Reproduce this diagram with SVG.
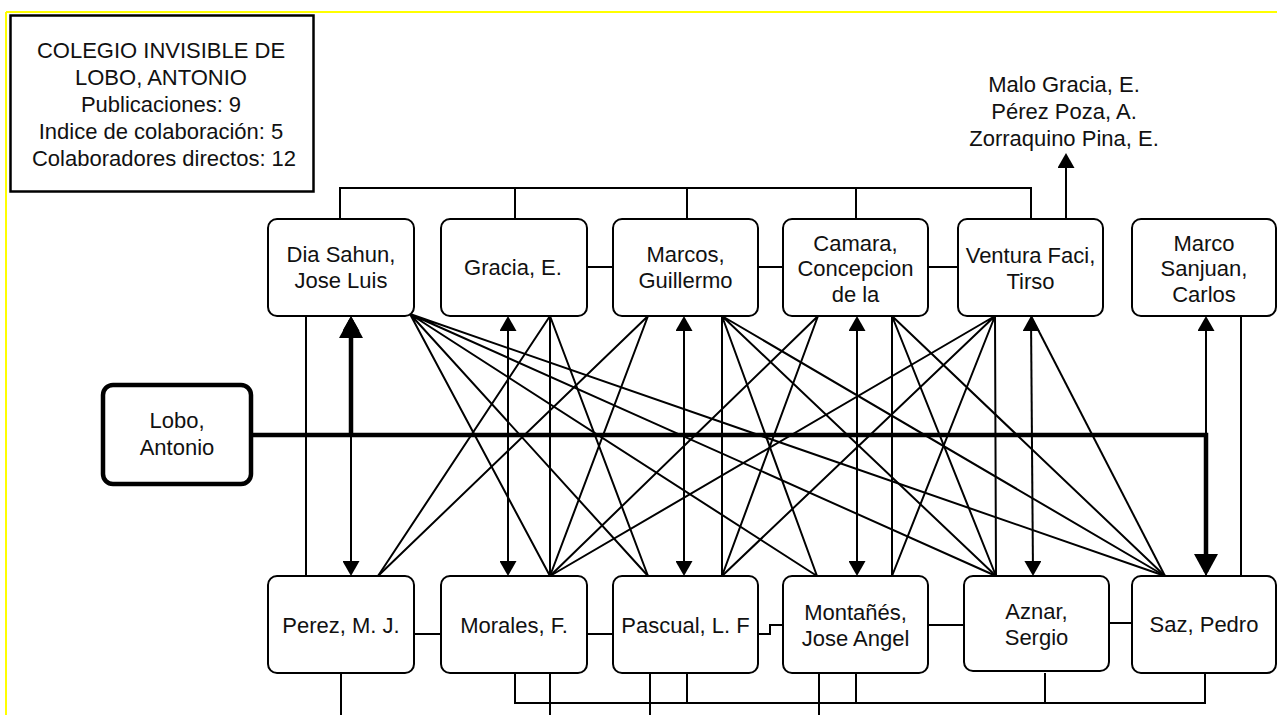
<svg xmlns="http://www.w3.org/2000/svg" width="1277" height="715" viewBox="0 0 1277 715">
<style>
  .node rect{fill:#fff;stroke:#000;stroke-width:2}
  #lobo rect{stroke-width:4.5}
  #legend rect{fill:#fff;stroke:#000;stroke-width:2.5}
  text{font-family:"Liberation Sans",Arial,sans-serif;font-size:22px;fill:#111;text-anchor:middle}
  .ln{stroke:#000;stroke-width:2;fill:none}
  .thick{stroke:#000;stroke-width:4.5;fill:none}
  .arr2{marker-start:url(#ah);marker-end:url(#ah)}
  .arrE{marker-end:url(#ah)}
  .arrS{marker-start:url(#ah)}
  .arrT{marker-end:url(#ahT)}
</style>
<defs>
  <marker id="ah" markerUnits="userSpaceOnUse" viewBox="0 0 15 17" markerWidth="15" markerHeight="17" refX="13" refY="8.5" orient="auto-start-reverse">
    <path d="M0,0 L15,8.5 L0,17 z" fill="#000"/>
  </marker>
  <marker id="ahT" markerUnits="userSpaceOnUse" viewBox="0 0 22 24" markerWidth="22" markerHeight="24" refX="18" refY="12" orient="auto">
    <path d="M0,0 L22,12 L0,24 z" fill="#000"/>
  </marker>
</defs>
<rect x="0" y="0" width="1277" height="715" fill="#fff"/>
<path d="M6,12 H1277 M6,12 V715" stroke="#ffff00" stroke-width="2" fill="none"/>

<g id="legend">
  <rect x="10.5" y="15.5" width="303" height="176"/>
  <text x="161" y="58">COLEGIO INVISIBLE DE</text>
  <text x="161" y="85">LOBO, ANTONIO</text>
  <text x="161" y="112">Publicaciones: 9</text>
  <text x="161" y="139">Indice de colaboración: 5</text>
  <text x="164" y="166">Colaboradores directos: 12</text>
</g>

<g id="connectors">
  <!-- top bus -->
  <path class="ln" d="M340,219 V188 H1031 V219 M515,188 V219 M687,188 V219 M856,188 V219"/>
  <path class="ln arrE" d="M1066,219 V155"/>
  <!-- top horizontals -->
  <path class="ln" d="M587,267 H613 M758,267 H783 M928,267 H958"/>
  <!-- bottom horizontals -->
  <path class="ln" d="M414,634 H441 M587,634 H613 M758,634 H770 V625 H783 M928,625 H964 M1109,623 H1132"/>
  <!-- bottom bus -->
  <path class="ln" d="M515,673 V703 H1205 V673 M687,673 V703 M856,673 V703 M1045,673 V703"/>
  <path class="ln" d="M341,673 V715 M550,673 V715 M650,673 V715 M819,673 V715"/>
  <!-- plain verticals -->
  <path class="ln" d="M306,316 V576 M1241,316 V576 M550,316 V576 M722,316 V576 M892,316 V576 M995,316 L996,576"/>
  <!-- double arrows -->
  <path class="ln arr2" d="M351,318 V574"/>
  <path class="ln arr2" d="M508,318 V574"/>
  <path class="ln arr2" d="M684,318 V574"/>
  <path class="ln arr2" d="M857,318 V574"/>
  <path class="ln arr2" d="M1031,318 L1033,574"/>
  <path class="ln arrS" d="M1206,318 V576"/>
  <!-- diagonals -->
  <path class="ln" d="M410,314 L550,576 M410,314 L648,576 M410,314 L817,576 M410,314 L996,576 M410,314 L1165,576"/>
  <path class="ln" d="M550,316 L378,576 M550,316 L648,576"/>
  <path class="ln" d="M648,316 L378,576 M648,316 L550,576"/>
  <path class="ln" d="M722,316 L817,576 M722,316 L996,576 M722,316 L1165,576"/>
  <path class="ln" d="M818,316 L550,576 M818,316 L722,576"/>
  <path class="ln" d="M892,316 L996,576 M892,316 L1165,576"/>
  <path class="ln" d="M995,316 L550,576 M995,316 L722,576 M995,316 L892,576"/>
  <path class="ln" d="M1031,316 L1165,576"/>
  <!-- thick Lobo connectors -->
  <path class="thick arrT" d="M251,435 H1206 V572"/>
  <path class="thick arrT" d="M351,435 V320"/>
</g>

<g id="malo-etc">
  <text x="1064" y="92">Malo Gracia, E.</text>
  <text x="1064" y="119">Pérez Poza, A.</text>
  <text x="1064" y="146">Zorraquino Pina, E.</text>
</g>

<g id="lobo" class="node">
  <rect x="103" y="385" width="148" height="99" rx="10"/>
  <text x="177" y="428">Lobo,</text>
  <text x="177" y="455">Antonio</text>
</g>

<g id="dia-sahun" class="node">
  <rect x="268" y="219" width="146" height="97" rx="9"/>
  <text x="341" y="262">Dia Sahun,</text>
  <text x="341" y="288">Jose Luis</text>
</g>
<g id="gracia" class="node">
  <rect x="441" y="219" width="146" height="97" rx="9"/>
  <text x="513" y="275">Gracia, E.</text>
</g>
<g id="marcos" class="node">
  <rect x="613" y="219" width="145" height="97" rx="9"/>
  <text x="685.5" y="262">Marcos,</text>
  <text x="685.5" y="288">Guillermo</text>
</g>
<g id="camara" class="node">
  <rect x="783" y="219" width="145" height="97" rx="9"/>
  <text x="855.5" y="251">Camara,</text>
  <text x="855.5" y="276">Concepcion</text>
  <text x="855.5" y="302">de la</text>
</g>
<g id="ventura" class="node">
  <rect x="958" y="219" width="145" height="97" rx="9"/>
  <text x="1030.5" y="263">Ventura Faci,</text>
  <text x="1030.5" y="289">Tirso</text>
</g>
<g id="marco-sanjuan" class="node">
  <rect x="1132" y="219" width="144" height="97" rx="9"/>
  <text x="1204" y="251">Marco</text>
  <text x="1204" y="276">Sanjuan,</text>
  <text x="1204" y="302">Carlos</text>
</g>

<g id="perez" class="node">
  <rect x="268" y="576" width="146" height="97" rx="9"/>
  <text x="341" y="633">Perez, M. J.</text>
</g>
<g id="morales" class="node">
  <rect x="441" y="576" width="146" height="97" rx="9"/>
  <text x="514" y="633">Morales, F.</text>
</g>
<g id="pascual" class="node">
  <rect x="613" y="576" width="145" height="97" rx="9"/>
  <text x="685.5" y="633">Pascual, L. F</text>
</g>
<g id="montanes" class="node">
  <rect x="783" y="576" width="145" height="97" rx="9"/>
  <text x="855.5" y="620">Montañés,</text>
  <text x="855.5" y="646">Jose Angel</text>
</g>
<g id="aznar" class="node">
  <rect x="964" y="576" width="145" height="95" rx="9"/>
  <text x="1036.5" y="619">Aznar,</text>
  <text x="1036.5" y="645">Sergio</text>
</g>
<g id="saz" class="node">
  <rect x="1132" y="576" width="144" height="97" rx="9"/>
  <text x="1204" y="632">Saz, Pedro</text>
</g>
</svg>
